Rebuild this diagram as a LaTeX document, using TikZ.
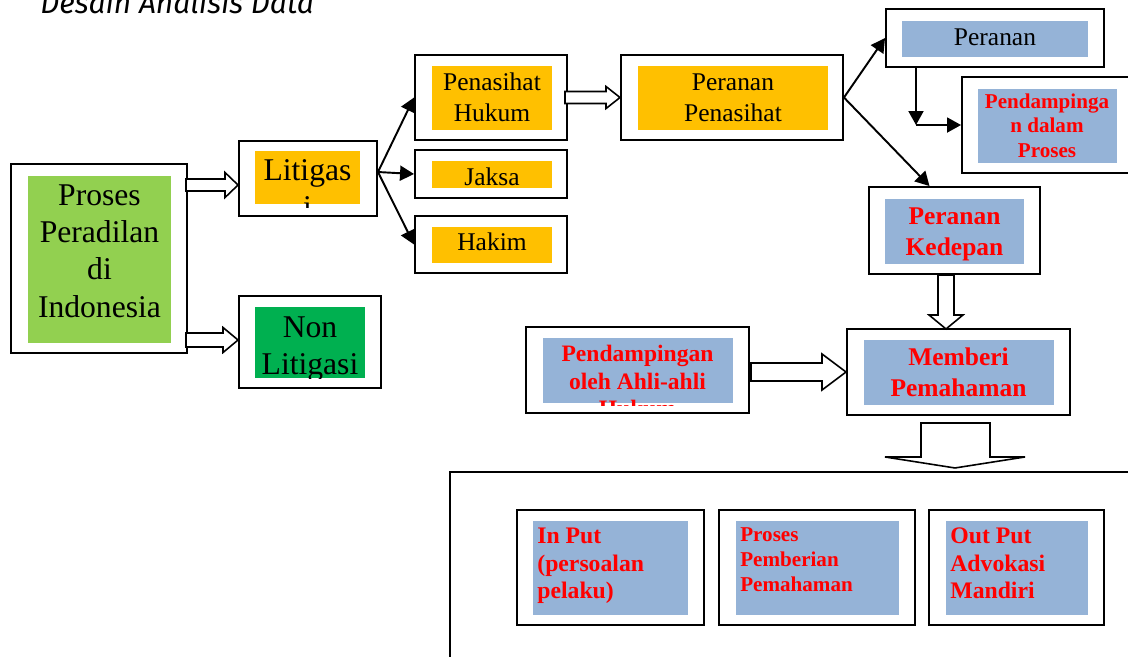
\documentclass[tikz,border=0pt]{standalone}
\usepackage{fontspec}
\setmainfont{Liberation Serif}
\newfontfamily\judulfont{Fira Sans}
\usetikzlibrary{arrows.meta,calc}
\definecolor{hijaumuda}{HTML}{92D050}
\definecolor{hijautua}{HTML}{00B050}
\definecolor{emas}{HTML}{FFC000}
\definecolor{birumuda}{HTML}{95B3D7}
\begin{document}
\begin{tikzpicture}[
    kotak/.style={shape=rectangle, draw, line width=1.1pt, inner sep=0},
    isi/.style={shape=rectangle, inner sep=0},
    teks/.style={anchor=center, align=center, inner sep=0},
    merah/.style={text=red},
    panah/.style={line width=1.1pt, -{Triangle[length=0.28cm, width=0.3cm]}},
    blok/.style={draw, line width=0.9pt, fill=white, line join=miter}
  ]
  \useasboundingbox (0,0) rectangle (22.56,-13.12);
  % Judul:
  \node[anchor=base west, inner sep=0, font=\judulfont\itshape\fontsize{17}{20}\selectfont] (judul) at (0.80,-0.26) {Desain Analisis Data};

  % Kotak-kotak kiri:
  \node[kotak, minimum width=3.52cm, minimum height=3.78cm] (proses) at (1.98,-5.17) {};
  \node[isi, fill=hijaumuda, minimum width=2.86cm, minimum height=3.34cm] (prosesisi) at (1.99,-5.19) {};
  \node[teks, font=\fontsize{18}{21.3}\selectfont] (prosesteks) at (1.99,-5.02) {Proses\\Peradilan\\di\\Indonesia};

  \node[kotak, minimum width=2.76cm, minimum height=1.50cm] (litig) at (6.16,-3.57) {};
  \node[isi, fill=emas, minimum width=2.10cm, minimum height=1.06cm] (litigisi) at (6.15,-3.55) {};
  \begin{scope}
    \clip (litigisi.north west) rectangle ([yshift=-0.06cm]litigisi.south east);
    \node[teks, font=\fontsize{18}{21.3}\selectfont] (litigteks) at (6.15,-3.775) {Litigas\\i};
  \end{scope}

  \node[kotak, minimum width=2.84cm, minimum height=1.84cm] (nonlit) at (6.20,-6.84) {};
  \node[isi, fill=hijautua, minimum width=2.20cm, minimum height=1.42cm] (nonlitisi) at (6.20,-6.85) {};
  \begin{scope}
    \clip (nonlitisi.north west) rectangle (nonlitisi.south east);
    \node[teks, font=\fontsize{18}{21.3}\selectfont] (nonlitteks) at (6.20,-6.98) {Non\\Litigasi};
  \end{scope}

  % Penasihat, Jaksa, Hakim:
  \node[kotak, minimum width=3.04cm, minimum height=1.70cm] (pena) at (9.82,-1.95) {};
  \node[isi, fill=emas, minimum width=2.40cm, minimum height=1.28cm] (penaisi) at (9.84,-1.96) {};
  \node[teks, font=\fontsize{14.5}{17.6}\selectfont] (penateks) at (9.84,-1.95) {Penasihat\\Hukum};

  \node[kotak, minimum width=3.04cm, minimum height=0.96cm] (jaksa) at (9.82,-3.48) {};
  \node[isi, fill=emas, minimum width=2.40cm, minimum height=0.54cm] (jaksaisi) at (9.84,-3.49) {};
  \node[teks, font=\fontsize{14.5}{17.6}\selectfont] (jaksateks) at (9.84,-3.54) {Jaksa};

  \node[kotak, minimum width=3.04cm, minimum height=1.14cm] (hakim) at (9.82,-4.89) {};
  \node[isi, fill=emas, minimum width=2.40cm, minimum height=0.72cm] (hakimisi) at (9.84,-4.90) {};
  \node[teks, font=\fontsize{14.5}{17.6}\selectfont] (hakimteks) at (9.84,-4.84) {Hakim};

  \node[kotak, minimum width=4.44cm, minimum height=1.70cm] (perpen) at (14.64,-1.95) {};
  \node[isi, fill=emas, minimum width=3.80cm, minimum height=1.28cm] (perpenisi) at (14.66,-1.96) {};
  \node[teks, font=\fontsize{14.5}{17.6}\selectfont] (perpenteks) at (14.66,-1.95) {Peranan\\Penasihat};

  % Kotak-kotak kanan:
  \node[kotak, minimum width=4.36cm, minimum height=1.16cm] (peran) at (19.90,-0.76) {};
  \node[isi, fill=birumuda, minimum width=3.72cm, minimum height=0.72cm] (peranisi) at (19.90,-0.78) {};
  \node[teks, font=\fontsize{14.5}{17.6}\selectfont] (peranteks) at (19.90,-0.74) {Peranan};

  \node[kotak, minimum width=3.44cm, minimum height=1.92cm] (dalam) at (20.96,-2.50) {};
  \node[isi, fill=birumuda, minimum width=2.78cm, minimum height=1.48cm] (dalamisi) at (20.95,-2.52) {};
  \node[teks, merah, font=\bfseries\fontsize{12}{13.9}\selectfont] (dalamteks) at (20.94,-2.51) {Pendampinga\\n dalam\\Proses};

  \node[kotak, minimum width=3.42cm, minimum height=1.74cm] (keped) at (19.09,-4.61) {};
  \node[isi, fill=birumuda, minimum width=2.78cm, minimum height=1.30cm] (kepedisi) at (19.09,-4.63) {};
  \node[teks, merah, font=\bfseries\fontsize{14.5}{17.6}\selectfont] (kepedteks) at (19.09,-4.68) {Peranan\\Kedepan};

  \node[kotak, minimum width=4.46cm, minimum height=1.72cm] (member) at (19.17,-7.44) {};
  \node[isi, fill=birumuda, minimum width=3.80cm, minimum height=1.30cm] (memberisi) at (19.18,-7.45) {};
  \node[teks, merah, font=\bfseries\fontsize{14.5}{17.6}\selectfont] (memberteks) at (19.17,-7.44) {Memberi\\Pemahaman};

  \node[kotak, minimum width=4.46cm, minimum height=1.72cm] (ahli) at (12.75,-7.40) {};
  \node[isi, fill=birumuda, minimum width=3.80cm, minimum height=1.30cm] (ahliisi) at (12.76,-7.41) {};
  \begin{scope}
    \clip (ahliisi.north west) rectangle ([yshift=-0.04cm]ahliisi.south east);
    \node[teks, merah, font=\bfseries\fontsize{13.4}{15.4}\selectfont] (ahliteks) at (12.75,-7.62) {Pendampingan\\oleh Ahli-ahli\\Hukum};
  \end{scope}

  % Kotak bawah:
  \node[kotak, minimum width=13.80cm, minimum height=4.16cm] (wadah) at (15.90,-11.52) {};

  \node[kotak, minimum width=3.74cm, minimum height=2.30cm] (masuk) at (12.21,-11.35) {};
  \node[isi, fill=birumuda, minimum width=3.10cm, minimum height=1.88cm] (masukisi) at (12.21,-11.36) {};
  \node[teks, merah, anchor=west, align=left, font=\bfseries\fontsize{13.5}{15.6}\selectfont] (masukteks) at (10.74,-11.32) {In Put\\(persoalan\\pelaku)};

  \node[kotak, minimum width=3.92cm, minimum height=2.30cm] (olah) at (16.34,-11.35) {};
  \node[isi, fill=birumuda, minimum width=3.26cm, minimum height=1.88cm] (olahisi) at (16.35,-11.36) {};
  \node[teks, merah, anchor=west, align=left, font=\bfseries\fontsize{12}{14.2}\selectfont] (olahteks) at (14.80,-11.19) {Proses\\Pemberian\\Pemahaman};

  \node[kotak, minimum width=3.50cm, minimum height=2.30cm] (keluar) at (20.33,-11.35) {};
  \node[isi, fill=birumuda, minimum width=2.84cm, minimum height=1.88cm] (keluarisi) at (20.34,-11.36) {};
  \node[teks, merah, anchor=west, align=left, font=\bfseries\fontsize{13.5}{15.6}\selectfont] (keluarteks) at (19.00,-11.27) {Out Put\\Advokasi\\Mandiri};

  % Panah blok:
  \draw[blok] ([yshift=-0.13cm]litig.west) -- ++(-0.26,0.25) -- ++(0,-0.13) -- ++(-0.78,0) -- ++(0,-0.24) -- ++(0.78,0) -- ++(0,-0.13) -- cycle;
  \draw[blok] ([yshift=0.04cm]nonlit.west) -- ++(-0.30,0.25) -- ++(0,-0.11) -- ++(-0.74,0) -- ++(0,-0.28) -- ++(0.74,0) -- ++(0,-0.11) -- cycle;
  \draw[blok] (perpen.west) -- ++(-0.28,0.22) -- ++(0,-0.10) -- ++(-0.82,0) -- ++(0,-0.24) -- ++(0.82,0) -- ++(0,-0.10) -- cycle;
  \draw[blok] ([xshift=-0.33cm]keped.south) -- ++(0,-0.80) -- ++(-0.18,0) -- ++(0.34,-0.28) -- ++(0.34,0.28) -- ++(-0.18,0) -- ++(0,0.80) -- cycle;
  \draw[blok] (member.west) -- ++(-0.48,0.36) -- ++(0,-0.18) -- ++(-1.42,0) -- ++(0,-0.36) -- ++(1.42,0) -- ++(0,-0.18) -- cycle;
  \draw[blok] ([xshift=-0.75cm,yshift=-0.14cm]member.south) -- ++(0,-0.68) -- ++(-0.72,0) -- ++(1.40,-0.22) -- ++(1.40,0.22) -- ++(-0.70,0) -- ++(0,0.68) -- cycle;

  % Panah garis:
  \coordinate (lcabang) at ([yshift=0.13cm]litig.east);
  \draw[panah] (lcabang) -- (pena.west);
  \draw[panah] (lcabang) -- (jaksa.west);
  \draw[panah] (lcabang) -- (hakim.west);
  \draw[panah] (perpen.east) -- (peran.west);
  \draw[panah] (perpen.east) -- ([xshift=-0.5cm]keped.north);
  \coordinate (ptekuk) at ([xshift=-1.58cm]peran.south |- dalam.west);
  \draw[panah] ([xshift=-1.58cm]peran.south) -- (ptekuk);
  \draw[panah] (ptekuk) -- (dalam.west);
\end{tikzpicture}
\end{document}
